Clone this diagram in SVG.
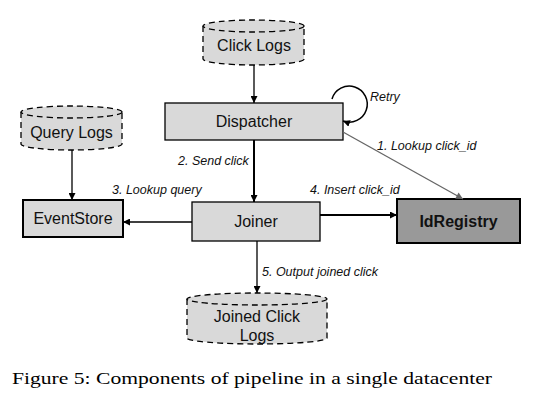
<svg xmlns="http://www.w3.org/2000/svg" width="544" height="412" viewBox="0 0 544 412">
<style>
.node{fill:#d9d9d9;stroke:#000;stroke-width:1.3}
.thick{stroke-width:2}
.db{fill:#d9d9d9;stroke:#000;stroke-width:1.3;stroke-dasharray:6 4}
.t{font-family:"Liberation Sans",Arial,sans-serif;font-size:16px;fill:#111;text-anchor:middle}
.lbl{font-family:"Liberation Sans",Arial,sans-serif;font-size:12.5px;font-style:italic;fill:#111}
.e{fill:none;stroke:#000;stroke-width:1.3}
.cap{font-family:"Liberation Serif","Times New Roman",serif;font-size:17px;fill:#000}
</style>
<defs>
<marker id="ah" viewBox="0 0 10 10" refX="10" refY="5" markerWidth="7" markerHeight="7" markerUnits="userSpaceOnUse" orient="auto"><path d="M0,0 L10,5 L0,10 z" fill="#000"/></marker>
<marker id="ahg" viewBox="0 0 10 10" refX="10" refY="5" markerWidth="9" markerHeight="7" markerUnits="userSpaceOnUse" orient="auto"><path d="M0,0 L10,5 L0,10 z" fill="#666"/></marker>
</defs>
<g id="clicklogs">
<path class="db" d="M203,26 L203,59 A50.5,6 0 0 0 304,59 L304,26"/>
<ellipse class="db" cx="253.5" cy="26" rx="50.5" ry="6"/>
<text class="t" x="254" y="51">Click Logs</text>
</g>
<g id="querylogs">
<path class="db" d="M21,112 L21,144 A50.5,6 0 0 0 122,144 L122,112"/>
<ellipse class="db" cx="71.5" cy="112" rx="50.5" ry="6"/>
<text class="t" x="71.5" y="138">Query Logs</text>
</g>
<g id="dispatcher">
<rect class="node" x="165" y="103" width="178" height="37"/>
<text class="t" x="254" y="127">Dispatcher</text>
</g>
<g id="eventstore">
<rect class="node thick" x="23" y="200" width="100" height="37"/>
<text class="t" x="73" y="224">EventStore</text>
</g>
<g id="joiner">
<rect class="node" x="192" y="202" width="128" height="39"/>
<text class="t" x="256" y="227">Joiner</text>
</g>
<g id="idregistry">
<rect class="node thick" x="397" y="199" width="123" height="44" style="fill:#999"/>
<text class="t" x="458.5" y="227" font-weight="bold">IdRegistry</text>
</g>
<g id="joinedlogs">
<path class="db" d="M187,299 L187,338 A70,6 0 0 0 327,338 L327,299"/>
<ellipse class="db" cx="257" cy="299" rx="70" ry="6"/>
<text class="t" x="257" y="322">Joined Click</text>
<text class="t" x="257" y="341">Logs</text>
</g>
<g id="connectors">
<line class="e" x1="254" y1="65" x2="254" y2="103" marker-end="url(#ah)"/>
<path class="e" d="M332,99 A18,18 0 1 1 343,121" marker-end="url(#ah)" style="stroke-width:1.5"/>
<line class="e" x1="254" y1="140" x2="254" y2="202" marker-end="url(#ah)" style="stroke-width:2"/>
<line class="e" x1="343" y1="132" x2="463" y2="199" marker-end="url(#ahg)" style="stroke:#666"/>
<line class="e" x1="72" y1="150" x2="72" y2="200" marker-end="url(#ah)"/>
<line class="e" x1="192" y1="222" x2="123" y2="222" marker-end="url(#ah)"/>
<line class="e" x1="320" y1="215" x2="397" y2="215" marker-end="url(#ah)" style="stroke-width:2"/>
<line class="e" x1="257" y1="241" x2="257" y2="293" marker-end="url(#ah)"/>
<text class="lbl" x="370" y="101">Retry</text>
<text class="lbl" x="377" y="150">1. Lookup click_id</text>
<text class="lbl" x="178" y="165">2. Send click</text>
<text class="lbl" x="112" y="194">3. Lookup query</text>
<text class="lbl" x="310" y="194">4. Insert click_id</text>
<text class="lbl" x="262" y="276">5. Output joined click</text>
</g>
<text class="cap" x="12" y="384" textLength="480" lengthAdjust="spacingAndGlyphs">Figure 5: Components of pipeline in a single datacenter</text>
</svg>
